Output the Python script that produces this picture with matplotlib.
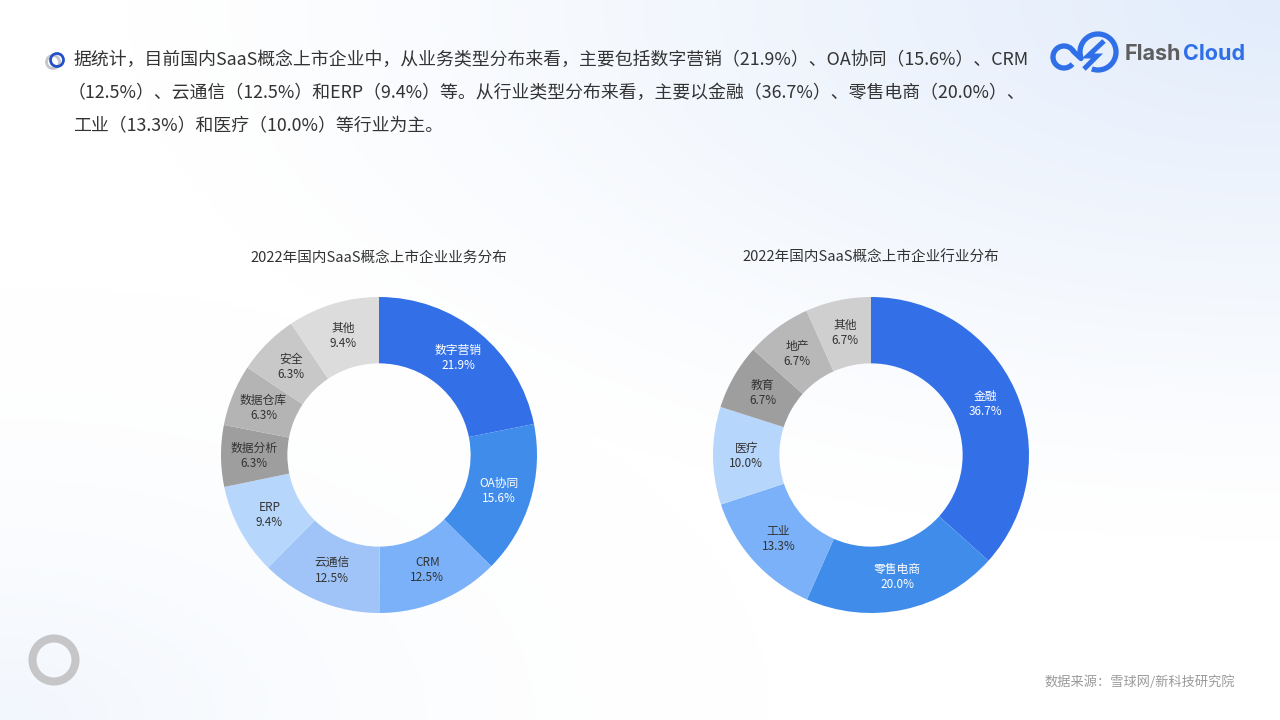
import numpy as np
import matplotlib
matplotlib.use("Agg")
import matplotlib.pyplot as plt
from matplotlib.patches import Circle, Arc

plt.rcParams['font.family'] = ['Noto Sans CJK SC', 'DejaVu Sans']

# ---------------- data ----------------
biz_title = "2022年国内SaaS概念上市企业业务分布"
biz_labels = ["数字营销", "OA协同", "CRM", "云通信", "ERP", "数据分析", "数据仓库", "安全", "其他"]
biz_values = [21.9, 15.6, 12.5, 12.5, 9.4, 6.3, 6.3, 6.3, 9.4]
biz_colors = ["#3370E8", "#3F8CEB", "#7AB1F8", "#A0C4F7", "#B7D6FC",
              "#9E9E9E", "#B4B4B4", "#C8C8C8", "#DCDCDC"]
biz_text_colors = ["white", "white", "#333333", "#333333", "#333333",
                   "#333333", "#333333", "#333333", "#333333"]

ind_title = "2022年国内SaaS概念上市企业行业分布"
ind_labels = ["金融", "零售电商", "工业", "医疗", "教育", "地产", "其他"]
ind_values = [36.7, 20.0, 13.3, 10.0, 6.7, 6.7, 6.7]
ind_colors = ["#3370E8", "#3F8CEB", "#7AB1F8", "#B7D6FC", "#9E9E9E", "#B8B8B8", "#CFCFCF"]
ind_text_colors = ["white", "white", "#333333", "#333333", "#333333", "#333333", "#333333"]

header_lines = [
    "据统计，目前国内SaaS概念上市企业中，从业务类型分布来看，主要包括数字营销（21.9%）、OA协同（15.6%）、CRM",
    "（12.5%）、云通信（12.5%）和ERP（9.4%）等。从行业类型分布来看，主要以金融（36.7%）、零售电商（20.0%）、",
    "工业（13.3%）和医疗（10.0%）等行业为主。",
]
source_text = "数据来源：雪球网/新科技研究院"
logo_words = ["Flash", "Cloud"]

W, H = 1280, 720
fig = plt.figure(figsize=(W / 100, H / 100), dpi=100)

# ---------------- background gradient ----------------
bg = fig.add_axes([0, 0, 1, 1], zorder=0)
yy, xx = np.mgrid[0:1:144j, 0:1:256j]
tr = np.clip(1 - np.hypot((1 - xx) * 1.0, yy * 1.2) / 0.9, 0, 1) ** 1.2
bl = np.clip(1 - np.hypot(xx, (1 - yy)) / 0.6, 0, 1) ** 1.8
t = np.clip(tr * 1.0 + bl * 0.45, 0, 1)
c_white = np.array([1.0, 1.0, 1.0])
c_blue = np.array([0xE2, 0xEC, 0xFB]) / 255
img = c_white[None, None, :] * (1 - t[..., None]) + c_blue[None, None, :] * t[..., None]
bg.imshow(img, extent=[0, W, H, 0], aspect='auto', interpolation='bilinear')
bg.set_xlim(0, W)
bg.set_ylim(H, 0)
bg.axis('off')

# ---------------- overlay (pixel coords, y downwards) ----------------
ov = fig.add_axes([0, 0, 1, 1], zorder=5)
ov.set_xlim(0, W)
ov.set_ylim(H, 0)
ov.axis('off')
ov.patch.set_alpha(0)

# bullet icon
ov.add_patch(Circle((53, 62), 6.5, fill=False, lw=2.0, ec="#C4C6CC"))
ov.add_patch(Circle((57, 60), 6.5, fill=False, lw=2.0, ec="#2451C8"))

# header text
hdr_fs = 12.85
ov.text(73, 60, header_lines[0], fontsize=hdr_fs, color="#333333", va='center', ha='left')
ov.text(68, 93, header_lines[1], fontsize=hdr_fs, color="#333333", va='center', ha='left')
ov.text(73, 126, header_lines[2], fontsize=hdr_fs, color="#333333", va='center', ha='left')

# logo icon (screen angles converted to data angles since y is inverted)
blue = "#2F6FE8"
ov.add_patch(Arc((1064, 57), 22, 22, theta1=-320, theta2=-30, lw=3.8, color=blue))
ov.add_patch(Arc((1098, 52), 36, 36, theta1=-200, theta2=110, lw=3.8, color=blue))
ov.plot([1073.5, 1081], [51.5, 58.5], color=blue, lw=3.8, solid_capstyle='round')
ov.plot([1104, 1088, 1097, 1084], [41, 56, 56, 69], color=blue, lw=3.6,
        solid_joinstyle='miter', solid_capstyle='butt')

logo_fs = 15.5
t1 = ov.text(1125, 54, logo_words[0], fontsize=logo_fs, fontweight='bold', color="#5E5E5E",
             va='center', ha='left', family='Inter')
fig.canvas.draw()
bb = t1.get_window_extent()
x_after = bb.x1 + 1
t2 = ov.text(0, 0, logo_words[1], fontsize=logo_fs, fontweight='bold', color=blue,
             va='center', ha='left', family='Inter', transform=None)
t2.set_position((x_after, H - 54))

# bottom-left ring
ov.add_patch(Circle((54, 660), 21.5, fill=False, lw=5.8, ec="#C6C6C9"))

# source
ov.text(1235, 682, source_text, fontsize=9.5, color="#9A9A9A", va='center', ha='right')

# titles
ov.text(379, 258, biz_title, fontsize=10.5, color="#333333", va='center', ha='center')
ov.text(871, 258, ind_title, fontsize=10.5, color="#333333", va='center', ha='center')


# ---------------- donuts ----------------
def donut(cx, cy, r_px, values, labels, colors, tcolors):
    ax = fig.add_axes([(cx - r_px) / W, 1 - (cy + r_px) / H, 2 * r_px / W, 2 * r_px / H], zorder=3)
    width = 0.42
    wedges, _ = ax.pie(values, colors=colors, startangle=90, counterclock=False,
                       radius=1.0, wedgeprops=dict(width=width, edgecolor='none'))
    rmid = 1 - width / 2
    for w, lab, v, tc in zip(wedges, labels, values, tcolors):
        ang = np.deg2rad((w.theta1 + w.theta2) / 2)
        ax.text(rmid * np.cos(ang), rmid * np.sin(ang), f"{lab}\n{v:.1f}%",
                ha='center', va='center', fontsize=8.5, color=tc, linespacing=1.2)
    ax.set_xlim(-1, 1)
    ax.set_ylim(-1, 1)
    ax.set_aspect('equal')
    ax.axis('off')
    return ax


donut(379, 455, 158, biz_values, biz_labels, biz_colors, biz_text_colors)
donut(871, 455, 158, ind_values, ind_labels, ind_colors, ind_text_colors)

fig.savefig("out.png", dpi=100)
